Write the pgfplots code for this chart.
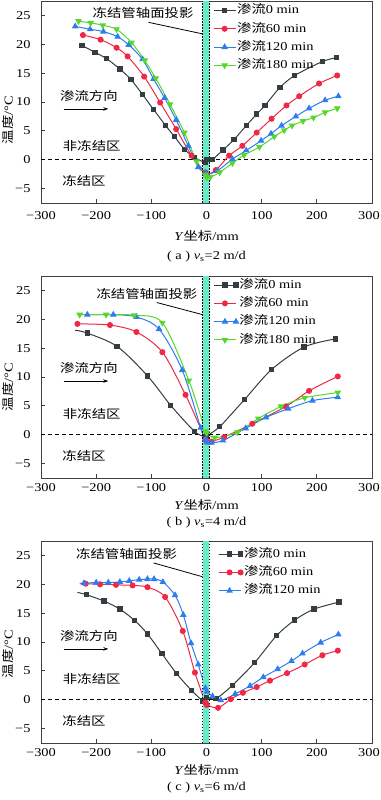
\documentclass[border=0pt]{standalone}
\usepackage{fontspec}
\setmainfont{Liberation Serif}[FakeStretch=1.2]
\newfontfamily\cjk{Noto Sans CJK SC}[FakeStretch=1.2]
\usepackage{pgfplots}
\pgfplotsset{compat=1.18}
\usetikzlibrary{arrows.meta}
\definecolor{cK}{RGB}{52,62,66}
\definecolor{cR}{RGB}{240,40,70}
\definecolor{cB}{RGB}{45,125,240}
\definecolor{cG}{RGB}{85,215,45}
\definecolor{bandc}{RGB}{100,235,200}
\def\fsz{\fontsize{12bp}{14bp}\selectfont}
\pgfplotsset{
  panel/.style={
    scale only axis, width=331bp, height=202bp,
    xmin=-300, xmax=300, ymin=-7.5, ymax=27.5, clip=false,
    xtick={-300,-200,-100,0,100,200,300},
    xticklabels={−300,−200,−100,0,100,200,\hspace*{-6bp}300},
    ytick={-5,0,5,10,15,20,25},
    yticklabels={−5,0,5,10,15,20,25},
    tick align=inside, xtick pos=lower, ytick pos=left, major tick length=4bp,
    axis line style={draw=black!75, line width=0.9bp},
    every tick/.style={black!75, line width=0.8bp},
    tick label style={font=\fsz},
    label style={font=\fsz},
    yticklabel style={anchor=east, xshift=-7bp},
    ylabel={{\cjk 温度}/°C},
    xlabel={\textit{Y}{\cjk 坐标}/mm},
    legend style={draw=none, fill=none, inner sep=0pt, outer sep=0pt, anchor=north west,
      font=\fsz, row sep=5.8bp, nodes={inner sep=0pt, text height=9.5bp, text depth=3bp},
      /tikz/every odd column/.append style={column sep=1bp}},
    legend cell align=left,
    legend image code/.code={\draw[mark repeat=2,mark phase=2] plot coordinates {(0bp,0bp) (11bp,0bp) (22bp,0bp)};},
    every axis plot/.append style={line width=1bp, smooth},
  },
  sK/.style={color=cK, mark=square*, mark size=2.2bp, mark options={solid, fill=cK}},
  sR/.style={color=cR, mark=*, mark size=2.5bp, mark options={solid, fill=cR}},
  sB/.style={color=cB, mark=triangle*, mark size=2.9bp, mark options={solid, fill=cB}},
  sG/.style={color=cG, mark=triangle*, mark size=2.9bp, mark options={solid, fill=cG, rotate=180}},
}
\newcommand\zeroline{\draw[black, line width=0.8bp, dash pattern=on 4bp off 3bp] (axis cs:-300,0) -- (axis cs:300,0);}
\newcommand\pipeband{%
  \fill[bandc] (axis cs:-7,-7.5) rectangle (axis cs:5,27.5);
  \draw[black, line width=1bp, dash pattern=on 1.5bp off 1.5bp] (axis cs:-7,-7.5) -- (axis cs:-7,27.5);
  \draw[black, line width=1bp, dash pattern=on 1.5bp off 1.5bp] (axis cs:5,-7.5) -- (axis cs:5,27.5);}
\newcommand\annots[7]{%
  \node[font=\fsz\cjk] at (axis cs:#1,#2) {冻结管轴面投影};
  \draw[black, line width=0.8bp] (axis cs:#3,#4) -- (axis cs:-7,#5);
  \node[font=\fsz\cjk] at (axis cs:-213,#6) {渗流方向};
  \draw[black, line width=0.8bp, -{Stealth[length=5bp,width=3.5bp]}] (axis cs:-259,#6-2.2) -- (axis cs:-178,#6-2.2);
  \node[font=\fsz\cjk] at (axis cs:-208,#7) {非冻结区};
  \node[font=\fsz\cjk] at (axis cs:-222,-3.6) {冻结区};}
\begin{document}
\begin{tikzpicture}
\path[use as bounding box] (0,0) rectangle (381bp,800bp);
% ---------------- (a)
\begin{axis}[panel, at={(41bp,597bp)}, anchor=south west,
  xticklabel style={anchor=center, yshift=-12.5bp},
  xlabel style={at={(axis description cs:0.5,0)}, anchor=center, yshift=-33bp},
  ylabel style={at={(axis description cs:-0.0997,0.41)}, anchor=center},
  legend style={at={(rel axis cs:0.52,0.984)}}]
\zeroline
\addplot[sK] coordinates {(-226,19.8) (-202,18.6) (-181,17.5) (-157,15.7) (-137,13.9) (-116,11.3) (-96,8.7) (-74,5.9) (-58,4.0) (-40,1.8) (-22,0.4) (-2,-0.5) (0.5,0) (10,0) (30,1.7) (50,3.5) (72,5.9) (91,7.9) (106,9.4) (133,12.5) (160,14.6) (210,17.0) (236,17.7)};
\addlegendentry{{\cjk 渗流}0 min}
\addplot[sR] coordinates {(-224,21.6) (-192,20.8) (-163,19.4) (-143,17.9) (-113,14.4) (-84,9.9) (-55,5.3) (-27,0.7) (-2,-2.2) (0.5,-2.6) (17,-1.8) (41,0.7) (65,2.4) (91,4.7) (118,7.1) (145,9.4) (168,11.0) (204,13.2) (237,14.6)};
\addlegendentry{{\cjk 渗流}60 min}
\addplot[sB] coordinates {(-238,23.1) (-211,22.6) (-187,22.2) (-161,21.3) (-141,19.9) (-116,17.4) (-96,14.0) (-76,10.7) (-55,6.9) (-33,2.4) (-15,-1.3) (-2,-2.3) (0.5,-2.6) (20,-1.9) (47,0.1) (72,1.6) (99,3.3) (117,4.5) (136,5.9) (162,7.5) (186,8.9) (215,10.3) (239,11.0)};
\addlegendentry{{\cjk 渗流}120 min}
\addplot[sG] coordinates {(-232,24.0) (-210,23.7) (-188,23.3) (-163,22.6) (-136,20.3) (-112,17.2) (-92,14.1) (-66,9.6) (-40,4.7) (-18,-0.3) (-2,-2.6) (0.5,-3.1) (7,-3.0) (24,-2.2) (47,-0.6) (68,0.8) (96,2.2) (123,4.0) (141,5.1) (155,5.9) (175,6.7) (194,7.3) (215,8.2) (237,8.9)};
\addlegendentry{{\cjk 渗流}180 min}
\pipeband
\annots{-115}{25.5}{-105}{23.8}{21.8}{11.0}{2.4}
\node at (rel axis cs:0.5,0) [yshift=-54bp, font=\fsz] {( a ) \textit{v}\textsubscript{s}=2 m/d};
\end{axis}
% ---------------- (b)
\begin{axis}[panel, at={(41bp,322bp)}, anchor=south west,
  xticklabel style={anchor=center, yshift=-10bp},
  xlabel style={at={(axis description cs:0.5,0)}, anchor=center, yshift=-27bp},
  ylabel style={at={(axis description cs:-0.0997,0.45)}, anchor=center},
  legend style={at={(rel axis cs:0.521,0.986)}}]
\zeroline
\addplot[sK, mark indices={2,...,13}] coordinates {(-238,18.1) (-216,17.6) (-162,15.3) (-107,10.2) (-65,5.1) (-22,0.6) (-2,-0.4) (0.5,-0.2) (24,1.4) (69,6.1) (118,11.3) (177,15.2) (234,16.6)};
\addlegendentry{{\cjk 渗流}0 min}
\addplot[sR] coordinates {(-234,19.2) (-175,19.0) (-127,17.8) (-80,14.3) (-38,6.9) (-2,-0.8) (0.5,-1.2) (9,-1.2) (32,-0.4) (83,1.9) (144,4.9) (186,7.6) (238,10.1)};
\addlegendentry{{\cjk 渗流}60 min}
\addplot[sB, mark indices={2,...,16}] coordinates {(-232,20.8) (-216,20.8) (-169,20.8) (-127,20.4) (-86,18.3) (-44,11.2) (-10.5,1.2) (-2,-0.8) (0.5,-1.3) (9,-1.4) (30,-1.0) (71,1.1) (108,3.0) (148,4.5) (192,5.9) (238,6.5)};
\addlegendentry{{\cjk 渗流}120 min}
\addplot[sG] coordinates {(-230,20.8) (-182,20.8) (-131,20.7) (-80,19.4) (-32,9.4) (-2,0.6) (0.5,0.3) (15,-0.5) (56,0.4) (94,2.8) (135,4.9) (178,6.4) (238,7.3)};
\addlegendentry{{\cjk 渗流}180 min}
\pipeband
\annots{-108}{24.4}{-90}{22.9}{20.8}{11.5}{3.6}
\node at (rel axis cs:0.5,0) [yshift=-45bp, font=\fsz] {( b ) \textit{v}\textsubscript{s}=4 m/d};
\end{axis}
% ---------------- (c)
\begin{axis}[panel, at={(41bp,57bp)}, anchor=south west,
  xticklabel style={anchor=center, yshift=-10bp},
  xlabel style={at={(axis description cs:0.5,0)}, anchor=center, yshift=-27bp},
  ylabel style={at={(axis description cs:-0.0997,0.44)}, anchor=center},
  legend style={at={(rel axis cs:0.535,0.966)}}]
\zeroline
\addplot[sK, mark indices={2,...,19}] coordinates {(-234,18.6) (-218,18.2) (-186,17.1) (-157,15.7) (-130,13.7) (-107,11.4) (-81,8.0) (-54,4.5) (-27,1.6) (-6,-0.2) (0.5,0.4) (17,0.2) (47,2.5) (87,6.4) (127,11.1) (160,13.8) (195,15.7) (240,16.9)};
\addlegendentry{{\cjk 渗流}0 min}
\addplot[sR, mark indices={2,...,20}] coordinates {(-230,20.2) (-219,20.1) (-193,20.0) (-164,19.9) (-134,19.8) (-107,19.5) (-75,17.8) (-43,11.9) (-21,4.7) (-2,-0.5) (0.5,-0.9) (21,-1.4) (44,0.1) (66,1.2) (91,2.2) (115,3.3) (146,4.6) (178,6.1) (210,7.7) (238,8.5)};
\addlegendentry{{\cjk 渗流}60 min}
\addplot[sB] coordinates {(-222,20.2) (-200,20.3) (-178,20.3) (-157,20.4) (-140,20.6) (-122,20.8) (-107,20.9) (-95,20.9) (-79,20.4) (-57,18.1) (-42,14.7) (-28,9.8) (-15,6.1) (-2,2.0) (0.5,1.4) (11,0.6) (26,-0.1) (52,1.0) (79,2.4) (103,3.9) (129,5.3) (154,6.7) (174,8.0) (207,9.9) (239,11.3)};
\addlegendentry{{\cjk 渗流}120 min}
\pipeband
\annots{-145}{25.3}{-96}{23.7}{21.3}{11.0}{3.6}
\node at (rel axis cs:0.5,0) [yshift=-45bp, font=\fsz] {( c ) \textit{v}\textsubscript{s}=6 m/d};
\end{axis}
\end{tikzpicture}
\end{document}
